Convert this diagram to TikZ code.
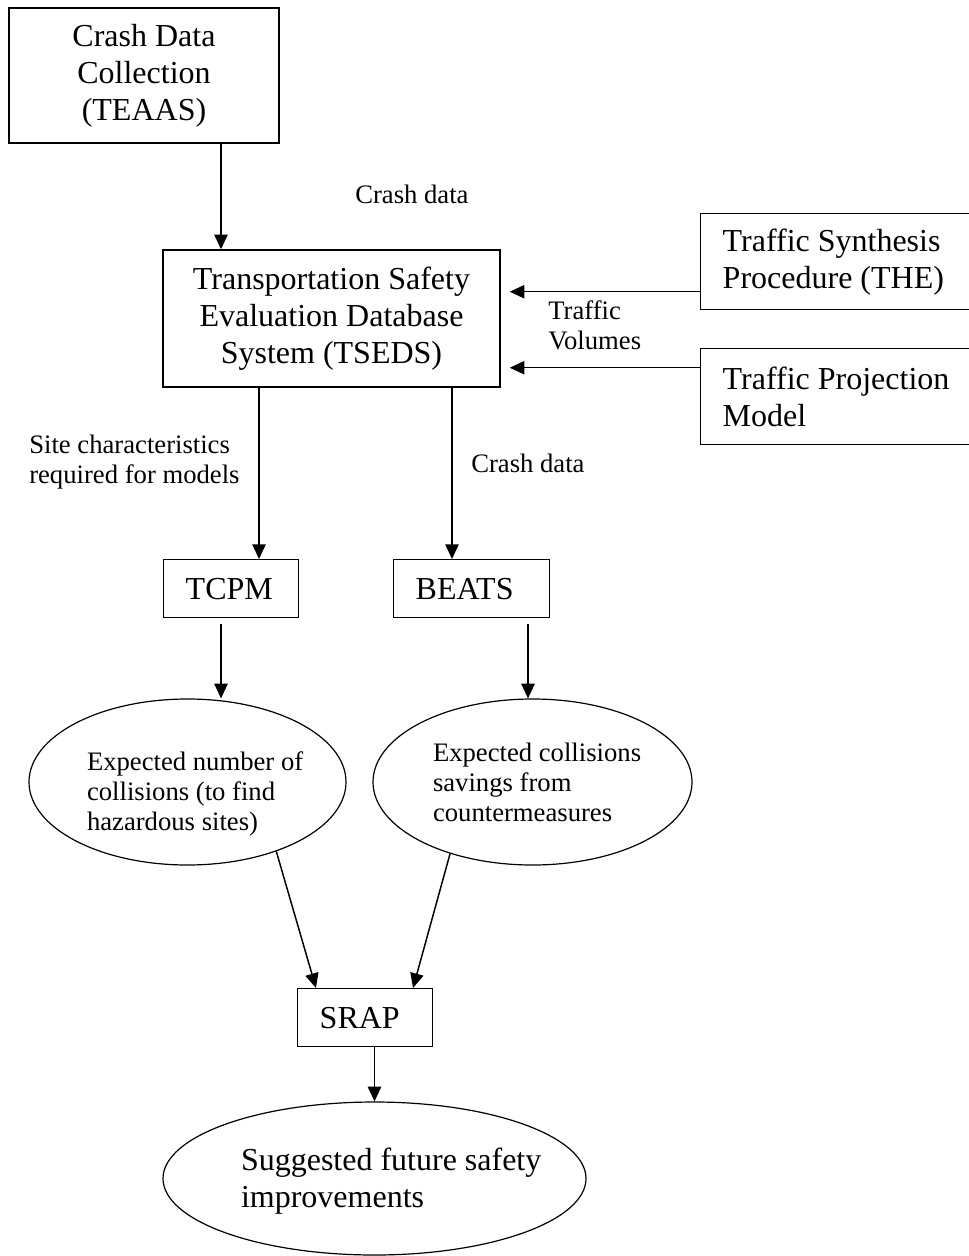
\documentclass[tikz,border=0pt]{standalone}
\usepackage{fontspec}
\setmainfont{Liberation Serif}
\usetikzlibrary{arrows.meta,shapes.geometric}

\newcommand{\bigfont}{\fontsize{24}{27.75}\selectfont}
\newcommand{\smallfont}{\fontsize{20}{22.5}\selectfont}

\begin{document}
\begin{tikzpicture}[x=0.75pt,y=-0.75pt,
  box/.style={draw,line width=1.1pt,inner ysep=0pt,font=\bigfont},
  wbox/.style={box,align=flush left,inner xsep=16.5pt,anchor=north west},
  ell/.style={draw,ellipse,line width=0.9pt,inner sep=0pt,align=flush left},
  lbl/.style={inner sep=0pt,font=\smallfont},
  arr/.style={line width=1.1pt,-{Triangle[length=11pt,width=10pt]}}]

\useasboundingbox (0,0) rectangle (969,1256);

%data sources
\node[box,align=center,minimum width=202.5pt,minimum height=101.25pt] (teaas) at (144,75.5) {Crash Data\\Collection\\(TEAAS)};
\node[box,align=center,minimum width=252.75pt,minimum height=102.75pt] (tseds) at (331.5,318.5) {Transportation Safety\\Evaluation Database\\System (TSEDS)};
\node[wbox,text width=195pt,minimum height=72pt] (synth) at (700,213) {Traffic Synthesis\\Procedure (THE)};
\node[wbox,text width=195pt,minimum height=72pt] (proj) at (700,348) {Traffic Projection\\Model};

%models
\node[wbox,text width=68.25pt,minimum height=43.5pt] (tcpm) at (163,559) {TCPM};
\node[wbox,text width=84pt,minimum height=43.5pt] (beats) at (393,559) {BEATS};

%results
\node[ell,font=\smallfont,text width=150.75pt,text depth=31.5pt,minimum width=237.75pt,minimum height=124.5pt] (hazard) at (187.5,782) {\mbox{Expected number of}\\collisions (to find\\hazardous sites)};
\node[ell,font=\smallfont,text width=149.25pt,text depth=45pt,minimum width=239.25pt,minimum height=124.5pt] (savings) at (532.5,782) {\mbox{Expected collisions}\\savings from\\countermeasures};
\node[wbox,text width=68.25pt,minimum height=43.5pt] (srap) at (297,988) {SRAP};
\node[ell,font=\bigfont,text width=200.25pt,text depth=29.25pt,minimum width=317.25pt,minimum height=114.75pt] (future) at (374.5,1178.5) {\mbox{Suggested future safety}\\improvements};

%labels
\node[lbl,anchor=base west] (crash1) at (355,203) {Crash data};
\node[lbl,anchor=north west,align=left] (volumes) at (548,300) {Traffic\\Volumes};
\node[lbl,anchor=north west,align=left] (site) at (29,435) {Site characteristics\\required for models};
\node[lbl,anchor=base west] (crash2) at (471,472) {Crash data};

\coordinate (synthout) at ([yshift=-22.5pt]synth.west);
\coordinate (projout) at ([yshift=21.75pt]proj.west);

\draw[arr] (221,0 |- teaas.south) -- (221,0 |- tseds.north);
\draw[arr,shorten >=6.75pt] (synthout) -- (synthout -| tseds.east);
\draw[arr,shorten >=6.75pt] (projout) -- (projout -| tseds.east);
\draw[arr] (259,0 |- tseds.south) -- (259,0 |- tcpm.north);
\draw[arr] (452,0 |- tseds.south) -- (452,0 |- beats.north);
\draw[arr,shorten <=4.5pt] (221,0 |- tcpm.south) -- (221,0 |- hazard.north);
\draw[arr,shorten <=4.5pt] (528,0 |- beats.south) -- (528,0 |- savings.north);
\draw[arr] (hazard.-38) -- (316,0 |- srap.north);
\draw[arr] (savings.-139) -- (413,0 |- srap.north);
\draw[arr] (future.north |- srap.south) -- (future.north);

\end{tikzpicture}
\end{document}
